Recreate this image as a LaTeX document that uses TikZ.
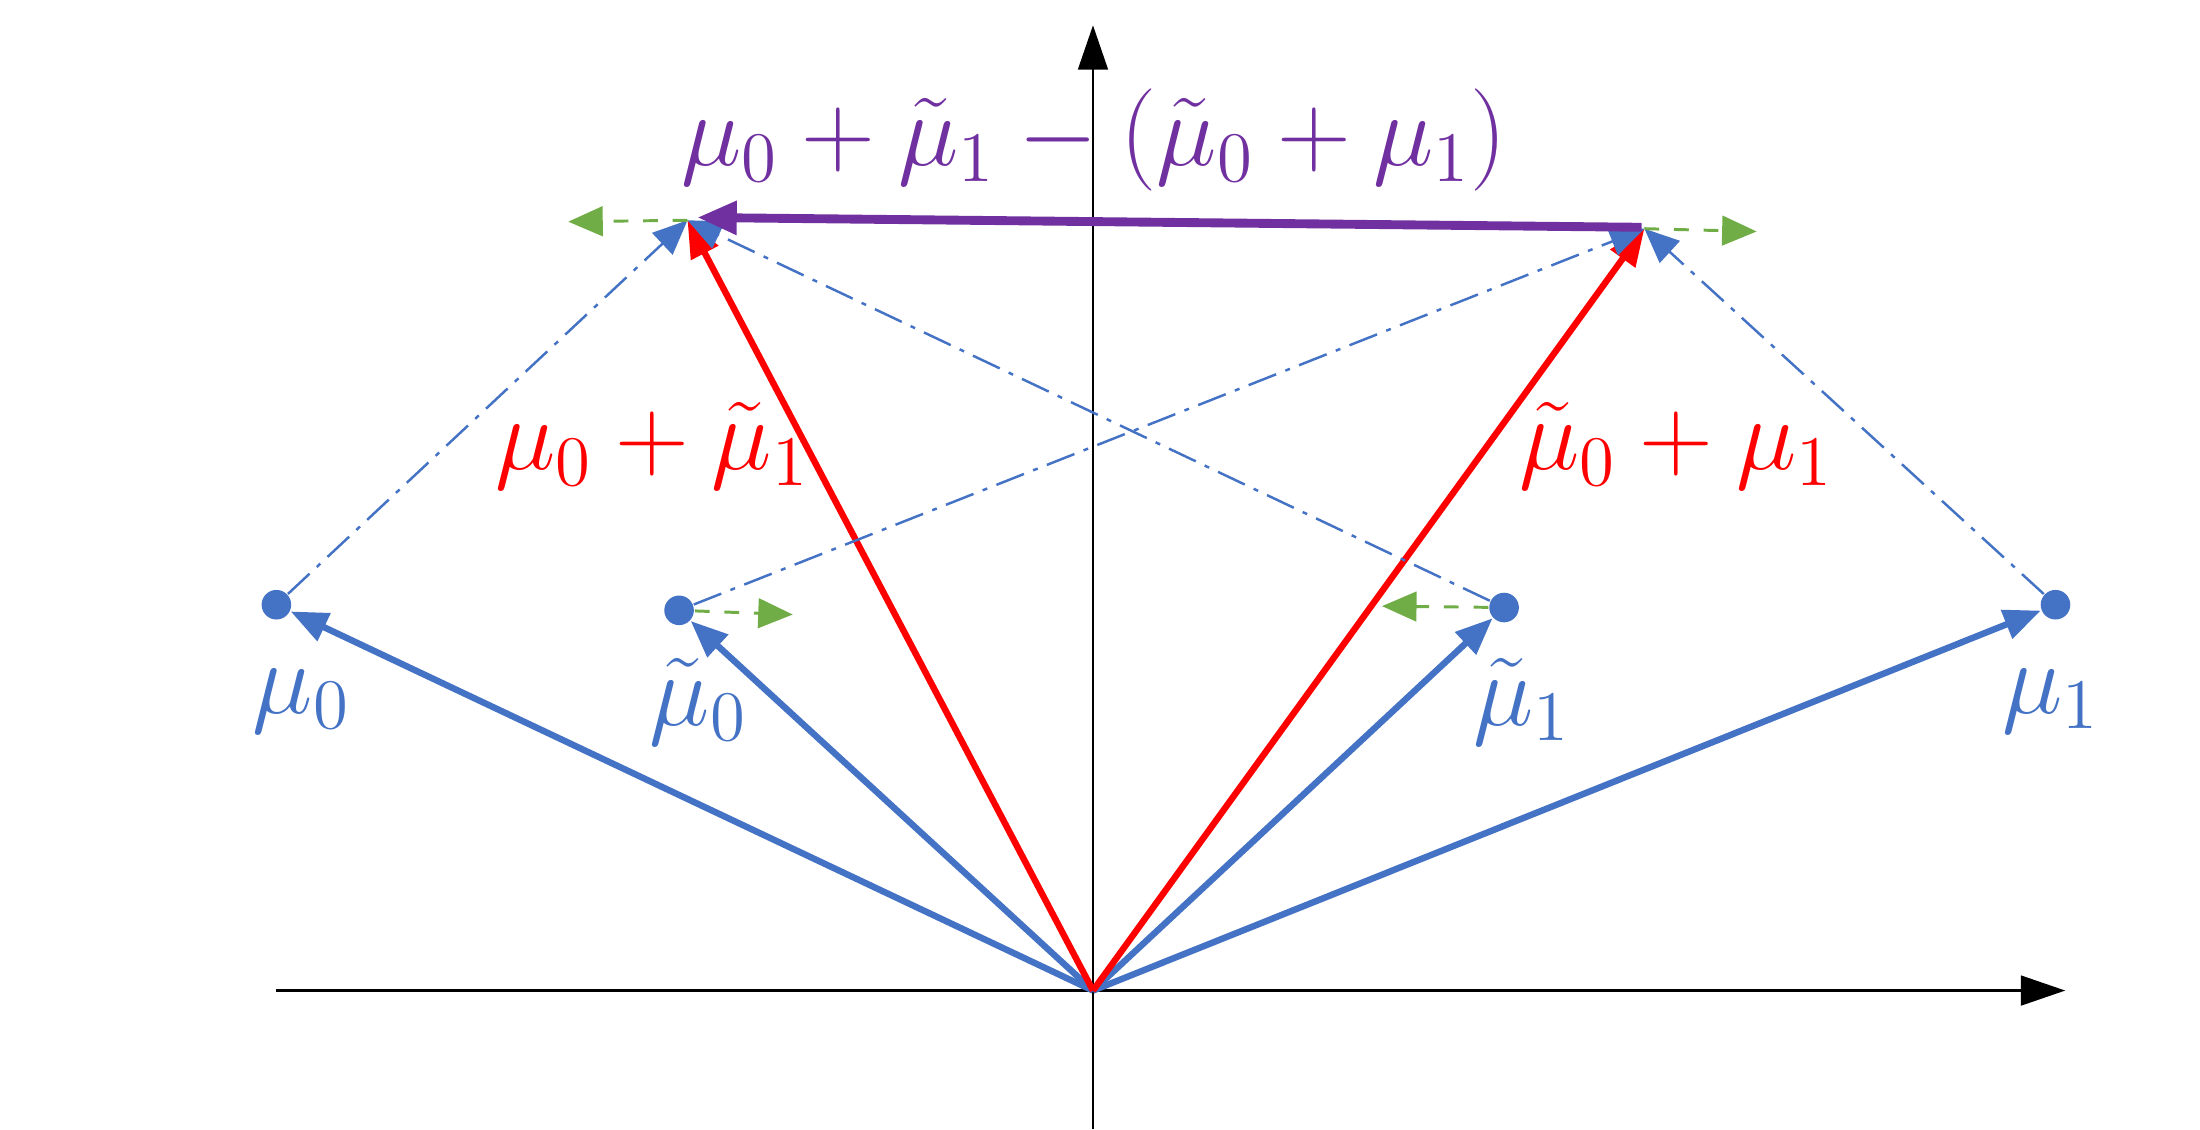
\documentclass[tikz,border=0pt]{standalone}
\usetikzlibrary{arrows.meta}
\definecolor{vb}{RGB}{68,114,196}
\definecolor{vg}{RGB}{112,173,71}
\definecolor{vp}{RGB}{112,48,160}
\begin{document}
\begin{tikzpicture}[x=0.1mm,y=-0.1mm,
 blue vec/.style={vb,line width=1.3pt,-{Triangle[length=7.5pt,width=6pt]}},
 red vec/.style={red,line width=1.3pt,-{Triangle[length=7.5pt,width=6pt]}},
 ddot/.style={vb,line width=0.5pt,dash pattern=on 6pt off 2pt on 1pt off 2pt,-{Triangle[length=7pt,width=6pt]}},
 gdash/.style={vg,line width=0.6pt,dashed,-{Triangle[length=7pt,width=6pt]}},
 pt/.style={circle,fill=vb,inner sep=0pt,minimum size=6pt},
 lab/.style={font=\fontsize{20}{24}\selectfont}]
\useasboundingbox (0,0) rectangle (1568,805);
\coordinate (O) at (779,706);
\draw[-{Triangle[length=9pt,width=6pt]},line width=0.6pt] (197,706) -- (1472,706);
\draw[-{Triangle[length=9pt,width=6pt]},line width=0.6pt] (779,805) -- (779,18);
\node[pt] (m0) at (197,431) {};
\node[pt] (t0) at (484,435) {};
\node[pt] (t1) at (1072,433) {};
\node[pt] (m1) at (1465,431) {};
\coordinate (L) at (490,157);
\coordinate (R) at (1172,163);
\draw[blue vec] (O) -- (m0);
\draw[blue vec] (O) -- (t0);
\draw[blue vec] (O) -- (t1);
\draw[blue vec] (O) -- (m1);
\draw[red vec] (O) -- (L);
\draw[red vec] (O) -- (R);
\draw[ddot] (m0) -- (L);
\draw[ddot] (t1) -- (L);
\draw[ddot] (t0) -- (R);
\draw[ddot] (m1) -- (R);
\coordinate (g1) at (405,158);
\coordinate (g2) at (1252,165);
\coordinate (g3) at (565,438);
\coordinate (g4) at (985,432);
\draw[gdash] (L) -- (g1);
\draw[gdash] (R) -- (g2);
\draw[gdash] (t0) -- (g3);
\draw[gdash] (t1) -- (g4);
\draw[vp,line width=1.8pt,-{Triangle[length=8pt,width=6.5pt]}] (1170,162) -- (497,155);
\node[lab,vb] (lm0) at (215,500) {$\mu_0$};
\node[lab,vb] (lt0) at (498,500) {$\tilde\mu_0$};
\node[lab,vb] (lt1) at (1085,500) {$\tilde\mu_1$};
\node[lab,vb] (lm1) at (1462,500) {$\mu_1$};
\node[lab,red] (r1) at (465,318) {$\mu_0+\tilde\mu_1$};
\node[lab,red] (r2) at (1195,318) {$\tilde\mu_0+\mu_1$};
\node[lab,vp] (pl) at (780,100) {$\mu_0+\tilde\mu_1-(\tilde\mu_0+\mu_1)$};
\end{tikzpicture}
\end{document}
